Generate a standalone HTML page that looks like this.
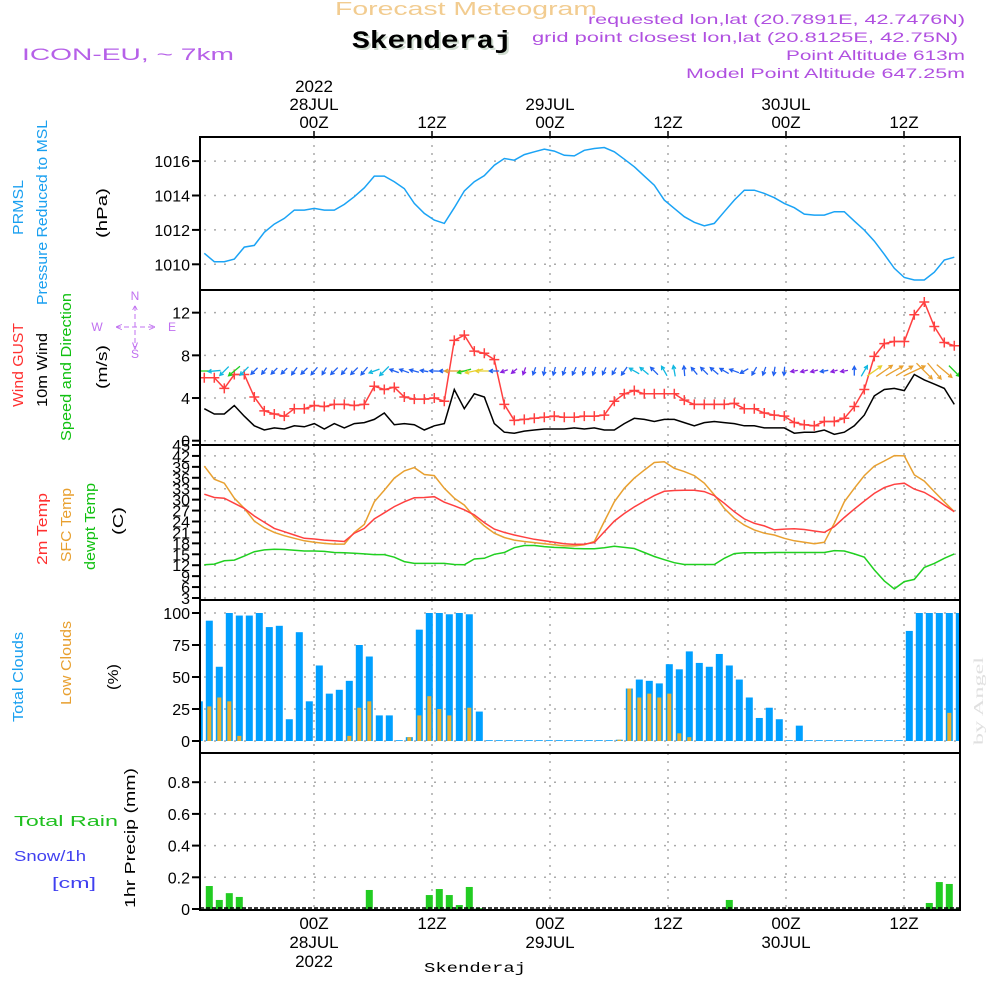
<!DOCTYPE html>
<html><head><meta charset="utf-8"><style>
html,body{margin:0;padding:0;background:#fff;}
svg{display:block;font-family:"Liberation Sans",sans-serif;}
</style></head><body>
<svg id="chart" xmlns="http://www.w3.org/2000/svg" width="1000" height="1000" viewBox="0 0 1000 1000">
<defs><clipPath id="plotclip"><rect x="200" y="137" width="760" height="773"/></clipPath></defs>
<rect x="0" y="0" width="1000" height="1000" fill="#fff"/>
<g id="hdr">
<text x="335" y="15" font-size="18" fill="#f2cc90" textLength="262" lengthAdjust="spacingAndGlyphs">Forecast Meteogram</text>
<text x="354" y="50" font-size="25" font-weight="bold" fill="#d0dcd0" font-family="Liberation Mono, monospace" textLength="160" lengthAdjust="spacingAndGlyphs">Skenderaj</text>
<text x="352" y="48" font-size="25" font-weight="bold" fill="#000" font-family="Liberation Mono, monospace" textLength="160" lengthAdjust="spacingAndGlyphs">Skenderaj</text>
<text x="22" y="60" font-size="17" fill="#b660e8" textLength="212" lengthAdjust="spacingAndGlyphs">ICON-EU, ~ 7km</text>
<text x="588" y="24" font-size="14" fill="#b050e0" textLength="377" lengthAdjust="spacingAndGlyphs">requested lon,lat (20.7891E, 42.7476N)</text>
<text x="532" y="42" font-size="14" fill="#b050e0" textLength="426" lengthAdjust="spacingAndGlyphs">grid point closest lon,lat (20.8125E, 42.75N)</text>
<text x="786" y="60" font-size="14" fill="#b050e0" textLength="179" lengthAdjust="spacingAndGlyphs">Point Altitude 613m</text>
<text x="686" y="78" font-size="14" fill="#b050e0" textLength="279" lengthAdjust="spacingAndGlyphs">Model Point Altitude 647.25m</text>
</g>
<g id="labels" font-size="15">
<text transform="translate(23,235) rotate(-90)" fill="#1aa0f0" textLength="55" lengthAdjust="spacingAndGlyphs">PRMSL</text>
<text transform="translate(47,305) rotate(-90)" fill="#1aa0f0" textLength="185" lengthAdjust="spacingAndGlyphs">Pressure Reduced to MSL</text>
<text transform="translate(107,238) rotate(-90)" fill="#000" textLength="50" lengthAdjust="spacingAndGlyphs">(hPa)</text>
<text transform="translate(23,407) rotate(-90)" fill="#ff3030" textLength="84" lengthAdjust="spacingAndGlyphs">Wind GUST</text>
<text transform="translate(47,407) rotate(-90)" fill="#000" textLength="74" lengthAdjust="spacingAndGlyphs">10m Wind</text>
<text transform="translate(71,441) rotate(-90)" fill="#10c010" textLength="148" lengthAdjust="spacingAndGlyphs">Speed and Direction</text>
<text transform="translate(107,389) rotate(-90)" fill="#000" textLength="44" lengthAdjust="spacingAndGlyphs">(m/s)</text>
<text transform="translate(47,565) rotate(-90)" fill="#ff3030" textLength="72" lengthAdjust="spacingAndGlyphs">2m Temp</text>
<text transform="translate(71,562) rotate(-90)" fill="#e8a030" textLength="74" lengthAdjust="spacingAndGlyphs">SFC Temp</text>
<text transform="translate(95,570) rotate(-90)" fill="#10c010" textLength="87" lengthAdjust="spacingAndGlyphs">dewpt Temp</text>
<text transform="translate(123,535) rotate(-90)" fill="#000" textLength="28" lengthAdjust="spacingAndGlyphs">(C)</text>
<text transform="translate(23,722) rotate(-90)" fill="#1aa0f0" textLength="90" lengthAdjust="spacingAndGlyphs">Total Clouds</text>
<text transform="translate(71,705) rotate(-90)" fill="#e8a030" textLength="84" lengthAdjust="spacingAndGlyphs">Low Clouds</text>
<text transform="translate(118,690) rotate(-90)" fill="#000" textLength="26" lengthAdjust="spacingAndGlyphs">(%)</text>
<text x="14" y="826" fill="#20c020" textLength="104" lengthAdjust="spacingAndGlyphs">Total  Rain</text>
<text x="14" y="861" fill="#4040f0" textLength="72" lengthAdjust="spacingAndGlyphs">Snow/1h</text>
<text x="52" y="888" fill="#4040f0" textLength="44" lengthAdjust="spacingAndGlyphs">[cm]</text>
<text transform="translate(135,908) rotate(-90)" fill="#000" textLength="140" lengthAdjust="spacingAndGlyphs">1hr Precip (mm)</text>
<text transform="translate(983,745) rotate(-90)" fill="#e0e0e0" font-family="Liberation Serif, serif" font-size="14" textLength="88" lengthAdjust="spacingAndGlyphs">by Angel</text>
<text x="424" y="972" fill="#000" font-family="Liberation Mono, monospace" font-size="14" textLength="102" lengthAdjust="spacingAndGlyphs">Skenderaj</text>
</g>
<g id="compass" fill="#c070f0" stroke="none" font-size="12" text-anchor="middle">
<text x="135" y="300">N</text><text x="135" y="358">S</text><text x="97" y="331">W</text><text x="172" y="331">E</text>
<text x="135" y="314">^</text><text x="135" y="349">v</text>
<line x1="116" y1="327" x2="154" y2="327" stroke="#c070f0" stroke-dasharray="5,3"/>
<line x1="135" y1="306" x2="135" y2="347" stroke="#c070f0" stroke-dasharray="5,3"/>
<text x="119" y="331">&lt;</text><text x="152" y="331">&gt;</text>
</g>
<g id="grid"></g>
<g id="marks" clip-path="url(#plotclip)"></g>
<g id="frames"></g>
<g id="axes"></g>
</svg>
<script>
// ---- data ----
const pressure = [1010.64,1010.15,1010.15,1010.3,1011,1011.1,1011.86,1012.34,1012.67,1013.15,1013.15,1013.25,1013.15,1013.15,1013.48,1013.93,1014.45,1015.13,1015.13,1014.8,1014.4,1013.54,1012.96,1012.57,1012.38,1013.29,1014.26,1014.8,1015.15,1015.76,1016.15,1016.05,1016.38,1016.54,1016.7,1016.58,1016.34,1016.3,1016.63,1016.73,1016.79,1016.54,1016.11,1015.67,1015.13,1014.6,1013.73,1013.25,1012.77,1012.44,1012.24,1012.38,1013.06,1013.73,1014.31,1014.31,1014.12,1013.87,1013.54,1013.29,1012.92,1012.86,1012.86,1013.06,1013.06,1012.51,1011.99,1011.35,1010.58,1009.77,1009.23,1009.09,1009.09,1009.54,1010.25,1010.41];
const gust = [5.9,5.9,4.9,6.2,6.2,4.1,2.8,2.5,2.3,3,3,3.3,3.2,3.4,3.4,3.3,3.4,5.1,4.8,5,4.1,3.9,3.9,4,3.7,9.4,9.9,8.4,8.2,7.6,3.4,1.9,2,2.1,2.2,2.3,2.2,2.2,2.3,2.3,2.4,3.7,4.4,4.7,4.4,4.4,4.4,4.4,3.8,3.4,3.4,3.4,3.4,3.5,3,3,2.6,2.4,2.3,1.7,1.5,1.4,1.8,1.8,2.1,3.2,4.8,7.9,9.1,9.3,9.3,11.8,13,10.7,9.2,8.9];
const wind10 = [3,2.5,2.5,3.3,2.3,1.4,1,1.2,1.1,1.4,1.3,1.6,1.1,1.6,1.2,1.6,1.7,2,2.6,1.5,1.6,1.5,1,1.4,1.6,4.8,3,4.4,4.1,1.6,0.8,0.7,0.9,1,1.1,1.1,1.1,1.2,1.1,1.2,1,1,1.6,2.1,2,1.8,2,2,1.7,1.4,1.7,1.8,1.7,1.6,1.4,1.4,1.2,1.2,1.2,0.7,0.8,0.8,1,0.6,0.8,1.4,2.4,4.2,4.8,4.9,4.7,6.2,5.7,5.3,4.9,3.4];
const windDir = [180,185,225,220,225,225,230,225,225,235,225,230,240,225,230,225,230,200,225,160,160,165,170,178,180,180,195,192,180,180,200,220,250,250,260,255,250,245,250,250,245,240,235,150,140,135,120,100,95,130,135,140,150,160,210,240,250,260,265,190,195,195,190,195,190,90,60,35,35,30,30,25,-45,-50,-40,-45];
const temp2m = [31.5,30.6,30.4,29,27.6,25.5,23.8,22.1,21.2,20.3,19.4,19.2,18.9,18.7,18.5,20.8,22.1,24.7,26.4,28.1,29.4,30.5,30.6,30.8,29.3,28.3,27.2,25.8,23.7,21.9,21,20.3,19.7,19.1,18.7,18.3,17.9,17.7,17.8,18.2,21.2,24.1,26.2,28,29.6,31.1,32.3,32.5,32.6,32.6,32.2,31.1,29,26.7,24.7,23.5,22.8,21.7,21.9,22,21.8,21.4,21,22.6,25.1,27.4,29.6,31.7,33.3,34.2,34.5,32.9,32,30.4,28.5,26.7];
const sfcTemp = [39.2,35.6,34.5,30.4,27.6,24.1,22.3,21,20.1,19.4,18.7,18.3,18,17.8,17.8,21,23.2,29.4,32.6,35.9,37.9,38.8,36.9,36.6,33.1,30.4,28.5,25.3,22.8,20.8,19.6,18.9,18.5,18.2,17.9,17.6,17.3,17.3,17.6,18.5,24,29.4,33.1,35.9,38.1,40.2,40.4,38.6,37.7,36.6,34.5,31.3,27.6,24.9,23,21.7,20.8,20.3,19.4,18.7,18.3,17.9,18.3,23.5,29.4,33.1,36.6,39.2,40.6,42.1,42,36.8,35.1,32.2,29.4,26.7];
const dewpt = [12.1,12.3,13.2,13.4,14.5,15.7,16.2,16.4,16.3,16.1,15.9,15.9,15.8,15.5,15.4,15.3,15.1,14.9,14.9,14.2,13,12.5,12.5,12.5,12.5,12.2,12.1,13.7,13.9,15,15.5,16.8,17.4,17.4,17.1,16.9,16.8,16.6,16.5,16.5,16.8,17.2,16.9,16.6,15.5,14.4,13.5,12.7,12.2,12.2,12.2,12.2,13.9,15.2,15.4,15.4,15.4,15.5,15.5,15.5,15.5,15.5,15.5,16,15.9,15.1,14.2,10.7,7.7,5.5,7.5,8.1,11.4,12.5,13.9,15.1];
const totalClouds = [31,94,58,100,98,98,100,89,90,17,85,31,59,37,40,47,75,66,20,20,0,3,87,100,100,99,100,99,23,0,0,0,0,0,0,0,0,0,0,0,0,0,1,41,48,47,45,60,56,70,61,58,68,59,48,34,18,26,17,0,12,0,0,0,0,0,0,0,0,0,0,86,100,100,100,100,100];
const lowClouds = [0,27,34,31,4,0,0,0,0,0,0,0,0,0,0,4,26,31,0,0,0,3,20,35,25,20,0,26,0,0,0,0,0,0,0,0,0,0,0,0,0,0,1,41,34,37,34,37,6,3,0,0,0,0,0,0,0,0,0,0,0,0,0,0,0,0,0,0,0,0,0,0,0,0,0,22,0];
const precip = [0,0.145,0.057,0.1,0.076,0,0,0,0,0,0,0,0,0,0,0,0,0.12,0,0,0,0,0,0.088,0.126,0.088,0.025,0.139,0.005,0,0,0,0,0,0,0,0,0,0,0,0,0,0,0,0,0,0,0,0,0,0,0,0,0.057,0,0,0,0,0,0,0,0,0,0,0,0,0,0,0,0,0,0,0,0.038,0.17,0.158,0.005];
const pressTicks = [1010,1012,1014,1016];
const windTicks = [0,4,8,12];
const tempTicks = [3,6,9,12,15,18,21,24,27,30,33,36,39,42,45];
const cloudTicks = [0,25,50,75,100];
const precipTicks = [0,0.2,0.4,0.6,0.8];
const timeLabels = ["00Z","12Z","00Z","12Z","00Z","12Z"];
const dateLabels = ["28JUL","","29JUL","","30JUL",""];

// ---- scales ----
const L=200,R=960;
const xL = i => 204.3 + 10*i;
const xB = k => 199.3 + 10*k;
const xT = j => 314 + 118*j;
const yP = p => 264.3 - (p-1010)*17.2;
const yW = v => 440.7 - 10.67*v;
const yT = t => 598 - (t-3)*3.643;
const yC = c => 741 - 1.28*c;
const yR = r => 909 - 158.5*r;
const NS="http://www.w3.org/2000/svg";
function mk(tag, attrs, parent){const e=document.createElementNS(NS,tag);for(const k in attrs)e.setAttribute(k,attrs[k]);parent.appendChild(e);return e;}
const grid=document.getElementById('grid'), marks=document.getElementById('marks'), frames=document.getElementById('frames'), axes=document.getElementById('axes');
const panels=[[137,290],[290,445],[445,600],[600,753],[753,910]];

for(let j=0;j<timeLabels.length;j++){
  panels.forEach(p=>{
    const g=mk('line',{x1:xT(j),x2:xT(j),y1:p[0],y2:p[1],stroke:'#aaa','stroke-width':1.5,'stroke-dasharray':'2,6'},grid);
    
    
  });
}
function hgrid(ticks,ys,fmt,name){
  ticks.forEach(t=>{
    const y=ys(t);
    const g=mk('line',{x1:L+4,x2:R,y1:y,y2:y,stroke:'#aaa','stroke-width':1.5,'stroke-dasharray':'2,8'},grid);
    
    
    const tk=mk('line',{x1:L-8,x2:L,y1:y,y2:y,stroke:'#000','stroke-width':2},axes);
    
    
    const tx=mk('text',{x:L-10,y:y+6,'text-anchor':'end','font-size':16,fill:'#000'},axes);
    tx.textContent=fmt(t);
    
    
  });
}
hgrid(pressTicks,yP,t=>String(t),'pressure');
hgrid(windTicks,yW,t=>String(t),'wind');
hgrid(tempTicks,yT,t=>String(t),'temp');
hgrid(cloudTicks,yC,t=>String(t),'cloud');
hgrid(precipTicks,yR,t=>t===0?'0':t.toFixed(1),'precip');

totalClouds.forEach((c,k)=>{
  const h=Math.max(c*1.28,0.8);
  const b=mk('rect',{x:xB(k)-3.5,y:yC(c)-(c===0?0.8:0),width:7,height:h,fill:'#00a0ff'},marks);
  
  
});
lowClouds.forEach((c,k)=>{
  if(c<=0) return;
  const b=mk('rect',{x:xB(k)-2,y:yC(c),width:4,height:c*1.28,fill:'#e8b030'},marks);
  
  
});
precip.forEach((r,k)=>{
  if(r<=0) return;
  const b=mk('rect',{x:xB(k)-3.5,y:yR(r),width:7,height:r*158.5,fill:'#22cc22'},marks);
  
  
});
const zl=mk('line',{x1:L,x2:R,y1:yR(0)-1,y2:yR(0)-1,stroke:'#000','stroke-width':1.5,'stroke-dasharray':'4,2'},marks);



function line(arr,ys,color,name,w){
  const d=arr.map((v,i)=>(i?'L':'M')+xL(i).toFixed(1)+','+ys(v).toFixed(1)).join('');
  const p=mk('path',{d:d,fill:'none',stroke:color,'stroke-width':w||1.5},marks);
  
  
}
line(pressure,yP,'#1aa3f5','pressure-line');
line(sfcTemp,yT,'#e8a030','sfc-temp-line');
line(temp2m,yT,'#ff4040','temp2m-line');
line(dewpt,yT,'#20d020','dewpoint-line');
line(wind10,yW,'#000','wind10m-line');
line(gust,yW,'#ff4040','gust-line');
gust.forEach((v,i)=>{
  const x=xL(i),y=yW(v);
  const c=mk('path',{d:`M${x-5},${y}H${x+5}M${x},${y-5}V${y+5}`,stroke:'#ff4040','stroke-width':1.5},marks);
  
  
});
function arrowColor(s){ if(s<1.0) return '#8a20e0'; if(s<2.0) return '#2060f0'; if(s<3.0) return '#10b8e0'; if(s<3.5) return '#20d020'; if(s<4.5) return '#e8d030'; return '#e8a030'; }
windDir.forEach((deg,i)=>{
  const s=wind10[i]; const len=5+3*s; const a=deg*Math.PI/180;
  const cx=xL(i), cy=371;
  const dx=Math.cos(a)*len/2, dy=-Math.sin(a)*len/2;
  const hx=cx+dx, hy=cy+dy;
  const h1=a+Math.PI-0.5, h2=a+Math.PI+0.5;
  const d=`M${cx-dx},${cy-dy}L${hx},${hy}M${hx+Math.cos(h1)*4},${hy-Math.sin(h1)*4}L${hx},${hy}L${hx+Math.cos(h2)*4},${hy-Math.sin(h2)*4}`;
  const p=mk('path',{d:d,fill:'none',stroke:arrowColor(s),'stroke-width':1.3},marks);
  
  
});
panels.forEach(p=>{
  const r=mk('rect',{x:L,y:p[0],width:R-L,height:p[1]-p[0],fill:'none',stroke:'#000','stroke-width':2},frames);
  
  
});
timeLabels.forEach((t,j)=>{
  const x=xT(j);
  const a=mk('text',{x:x,y:128,'text-anchor':'middle','font-size':17,fill:'#000'},axes);
  a.textContent=t;
  
  
  const b=mk('text',{x:x,y:929,'text-anchor':'middle','font-size':17,fill:'#000'},axes);
  b.textContent=t;
  
  
  const tk=mk('line',{x1:x,x2:x,y1:131,y2:137,stroke:'#000','stroke-width':1.5},axes);
  
  
  if(dateLabels[j]){
    const c=mk('text',{x:x,y:110,'text-anchor':'middle','font-size':17,fill:'#000'},axes);
    c.textContent=dateLabels[j];
    
    
    const e=mk('text',{x:x,y:948,'text-anchor':'middle','font-size':17,fill:'#000'},axes);
    e.textContent=dateLabels[j];
    
    
  }
});
const y1=mk('text',{x:xT(0),y:92,'text-anchor':'middle','font-size':17,fill:'#000'},axes);
y1.textContent='2022';


const y2=mk('text',{x:xT(0),y:967,'text-anchor':'middle','font-size':17,fill:'#000'},axes);
y2.textContent='2022';


</script>
</body></html>
